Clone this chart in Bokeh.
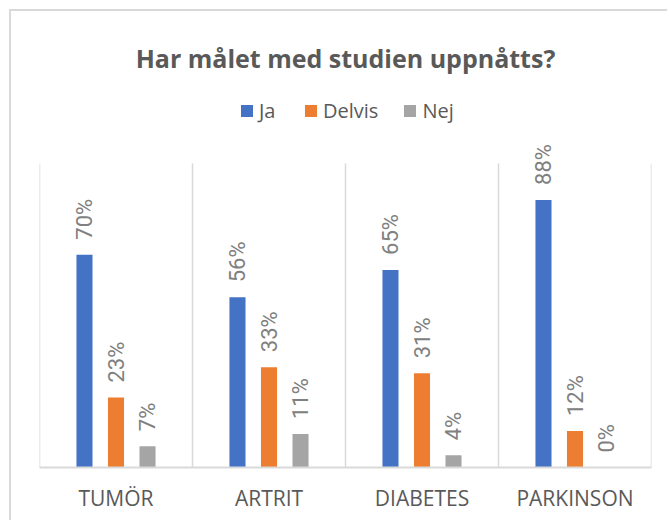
import math
from bokeh.plotting import figure
from bokeh.models import (Range1d, Legend, LegendItem, Label, FixedTicker,
                          ColumnDataSource)
from bokeh.transform import dodge
from bokeh.core.properties import value
from bokeh.embed import file_html
from bokeh.resources import INLINE

# ---- data ----
categories = ["TUMÖR", "ARTRIT", "DIABETES", "PARKINSON"]
series_names = ["Ja", "Delvis", "Nej"]
ja = [0.70, 0.56, 0.65, 0.88]
delvis = [0.23, 0.33, 0.31, 0.12]
nej = [0.07, 0.11, 0.04, 0.00]
title_text = "Har målet med studien uppnåtts?"

colors = ["#4472C4", "#ED7D31", "#A5A5A5"]
offsets = [-0.206, 0.0, 0.206]
bar_w = 0.105

W, H = 658, 511
p = figure(width=W, height=H, output_backend="svg", toolbar_location=None,
           x_range=Range1d(0, len(categories)), y_range=Range1d(0, 1.5),
           title=None, min_border_left=28, min_border_right=18,
           min_border_top=0, min_border_bottom=55)
p.styles = {"margin-left": "9px", "margin-top": "9px",
            "border-left": "2px solid #D9D9D9", "border-top": "2px solid #D9D9D9"}
p.outline_line_color = None
p.background_fill_color = "white"
p.border_fill_color = "white"
p.xgrid.visible = False
p.ygrid.visible = False

centers = [i + 0.5 for i in range(len(categories))]
bounds = list(range(len(categories) + 1))
source = ColumnDataSource(dict(x=centers, cat=categories, Ja=ja, Delvis=delvis, Nej=nej,
                               Ja_lbl=[f"{round(v*100)}%" for v in ja],
                               Delvis_lbl=[f"{round(v*100)}%" for v in delvis],
                               Nej_lbl=[f"{round(v*100)}%" for v in nej]))

# separators at category boundaries (span 0..100%)
p.segment(x0=bounds, y0=[0] * len(bounds), x1=bounds, y1=[1] * len(bounds),
          line_color="#D9D9D9", line_width=1.5)

renderers = []
for name, col, off in zip(series_names, colors, offsets):
    r = p.vbar(x=dodge("x", off, range=p.x_range), top=name, width=bar_w,
               bottom=0, source=source, fill_color=col, line_color=None)
    renderers.append(r)
    p.text(x=dodge("x", off, range=p.x_range), y=name, text=name + "_lbl",
           source=source, angle=math.pi / 2, text_align="left",
           text_baseline="middle", y_offset=-15,
           text_font=value("Roboto"), text_font_size="22px",
           text_color="#808080")

# axes
p.yaxis.visible = False
ax = p.xaxis[0]
ax.ticker = FixedTicker(ticks=centers)
ax.major_label_overrides = {c: n for c, n in zip(centers, categories)}
ax.axis_line_color = "#D9D9D9"
ax.axis_line_width = 2
ax.major_tick_line_color = None
ax.minor_tick_line_color = None
ax.major_label_standoff = 10
ax.major_label_text_font = "Open Sans"
ax.major_label_text_font_size = "21px"
ax.major_label_text_color = "#595959"

# legend
legend = Legend(items=[LegendItem(label=n, renderers=[r]) for n, r in zip(series_names, renderers)],
                location=(200, 343), orientation="horizontal",
                border_line_color=None, background_fill_alpha=0,
                padding=0, margin=0, spacing=24, glyph_width=15, glyph_height=15,
                label_standoff=5, label_text_font="Open Sans",
                label_text_font_size="20px", label_text_color="#595959")
p.add_layout(legend)

# title
p.add_layout(Label(x=306, y=410, x_units="screen", y_units="screen", text=title_text,
                   text_align="center", text_baseline="alphabetic",
                   text_font="Open Sans", text_font_size="25px",
                   text_font_style="bold", text_color="#595959"))

open("out.html", "w").write(file_html(p, INLINE))
